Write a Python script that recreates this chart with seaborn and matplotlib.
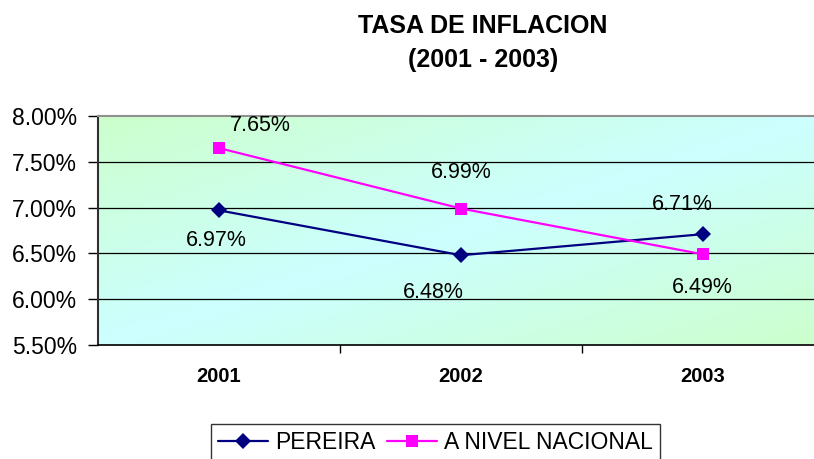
import numpy as np
import pandas as pd
import matplotlib
matplotlib.use("Agg")
import matplotlib.pyplot as plt
from matplotlib.ticker import FuncFormatter, FixedLocator
import seaborn as sns

# ---- data ----
years = ["2001", "2002", "2003"]
series_names = ["PEREIRA", "A NIVEL NACIONAL"]
pereira = [6.97, 6.48, 6.71]
nacional = [7.65, 6.99, 6.49]
y_ticks = [5.50, 6.00, 6.50, 7.00, 7.50, 8.00]
title_lines = ["TASA DE INFLACION", "(2001 - 2003)"]

df = pd.DataFrame({
    "Año": years * 2,
    "Serie": [series_names[0]] * len(years) + [series_names[1]] * len(years),
    "Tasa": pereira + nacional,
})

sns.set_theme(style="white")
plt.rcParams["font.family"] = ["Liberation Sans", "DejaVu Sans"]
for k in ["text.color", "axes.labelcolor", "xtick.color", "ytick.color"]:
    plt.rcParams[k] = "black"

W, H = 814, 459
fig = plt.figure(figsize=(W / 100, H / 100), dpi=100)
ax = fig.add_axes([98 / W, 1 - 345 / H, (824 - 98) / W, (345 - 116) / H])

# gradient background (green -> cyan -> green along the diagonal)
green = np.array([0.80, 1.00, 0.80])
cyan = np.array([0.80, 1.00, 1.00])
nx, ny = 300, 120
xx, yy = np.meshgrid(np.linspace(0, 1, nx), np.linspace(0, 1, ny))  # yy=0 top
u = xx + yy
w = 1 - np.abs(u - 1)
img = green[None, None, :] * (1 - w[..., None]) + cyan[None, None, :] * w[..., None]
ax.imshow(img, extent=[0, 1, 0, 1], transform=ax.transAxes, aspect="auto",
          zorder=0, interpolation="bilinear")

palette = {series_names[0]: "#000080", series_names[1]: "#FF00FF"}
markers = {series_names[0]: "D", series_names[1]: "s"}
sns.lineplot(data=df, x="Año", y="Tasa", hue="Serie", style="Serie",
             palette=palette, markers=markers, dashes=False, sort=False,
             linewidth=1.6, markersize=8, markeredgewidth=0,
             ax=ax, zorder=3)

ax.set_xlim(-0.5, 2.5)
ax.set_ylim(5.5, 8.0)
ax.yaxis.set_major_locator(FixedLocator(y_ticks))
ax.yaxis.set_major_formatter(FuncFormatter(lambda v, p: f"{v:.2f}%"))
ax.set_xlabel("")
ax.set_ylabel("")

ax.grid(False)
for yv in y_ticks[1:-1]:
    ax.axhline(yv, color="black", lw=0.9, zorder=1)

ax.tick_params(axis="y", which="major", length=7, width=1, color="black",
               labelsize=16.5, pad=8, left=True, direction="out",
               labelcolor="black")
ax.tick_params(axis="x", which="major", length=0, pad=16, labelsize=14.5,
               labelcolor="black")
for t in ax.get_xticklabels():
    t.set_fontweight("bold")
ax.set_xticks([0.5, 1.5], minor=True)
ax.tick_params(axis="x", which="minor", length=6, width=1, color="black",
               direction="out", bottom=True)

for s in ["left", "bottom", "top", "right"]:
    ax.spines[s].set_visible(True)
ax.spines["left"].set_color("#303030")
ax.spines["left"].set_linewidth(1.5)
ax.spines["bottom"].set_color("black")
ax.spines["bottom"].set_linewidth(1.2)
ax.spines["top"].set_color("#909090")
ax.spines["top"].set_linewidth(1.5)
ax.spines["right"].set_color("#909090")

# data labels (offsets in pixels)
label_offsets = {
    series_names[0]: [(-3, -30), (-28, -37), (-21, 30)],
    series_names[1]: [(41, 23), (0, 36), (-1, -33)],
}
for name, vals in [(series_names[0], pereira), (series_names[1], nacional)]:
    for i, v in enumerate(vals):
        dx, dy = label_offsets[name][i]
        ax.annotate(f"{v:.2f}%", xy=(i, v), xytext=(dx, dy),
                    textcoords="offset pixels", ha="center", va="center",
                    fontsize=15.5, color="black", zorder=4)

# title
fig.text(483 / W, 1 - 26 / H, title_lines[0], ha="center", va="center",
         fontsize=18, fontweight="bold", color="black")
fig.text(483 / W, 1 - 60 / H, title_lines[1], ha="center", va="center",
         fontsize=18, fontweight="bold", color="black")

# legend
handles, labels = ax.get_legend_handles_labels()
if ax.get_legend() is not None:
    ax.get_legend().remove()
leg = fig.legend(handles, labels, loc="upper left",
                 bbox_to_anchor=(211 / W, 1 - 424 / H), ncol=2,
                 fontsize=16.5, frameon=True, fancybox=False, handlelength=2.2,
                 handletextpad=0.3, columnspacing=0.5, borderpad=0.3,
                 borderaxespad=0)
leg.get_frame().set_edgecolor("black")
leg.get_frame().set_linewidth(1.0)
leg.get_frame().set_facecolor("white")
for t in leg.get_texts():
    t.set_color("black")

fig.savefig("out.png", dpi=100)
